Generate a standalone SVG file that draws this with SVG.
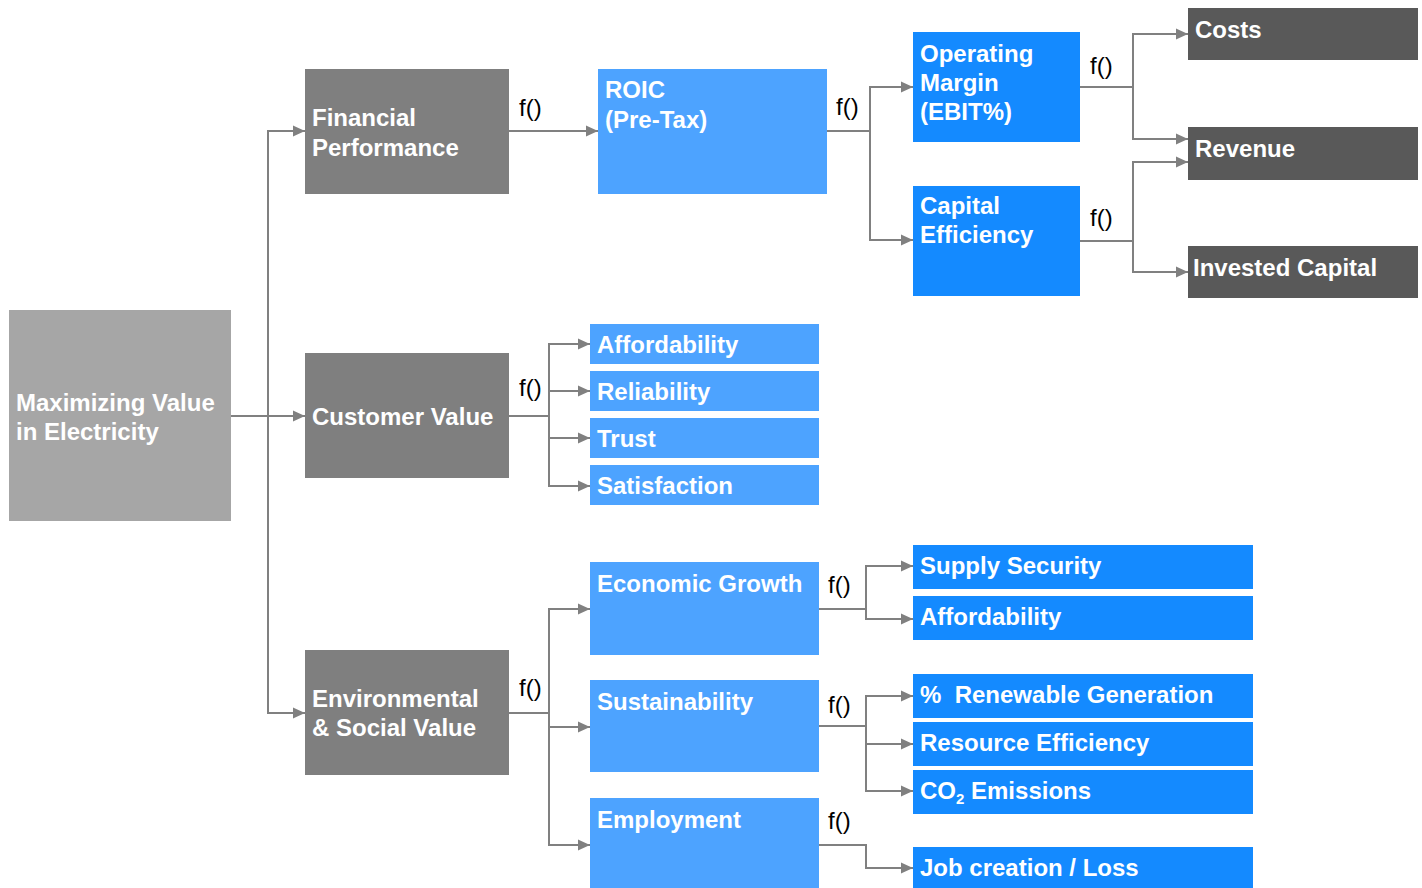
<svg xmlns="http://www.w3.org/2000/svg" width="1422" height="888" viewBox="0 0 1422 888">
<style>
.root{fill:#a6a6a6}
.l1{fill:#7f7f7f}
.lb{fill:#4da3ff}
.db{fill:#148aff}
.dk{fill:#595959}
.t{font-family:"Liberation Sans",Arial,sans-serif;font-size:24px;font-weight:bold;fill:#ffffff}
.f{font-family:"Liberation Sans",Arial,sans-serif;font-size:24px;fill:#000000}
.c{fill:none;stroke:#808080;stroke-width:2}
</style>
<defs>
<marker id="ar" viewBox="0 0 12 12" refX="12" refY="6" markerWidth="12" markerHeight="12" markerUnits="userSpaceOnUse" orient="auto">
<path d="M0,0.5 L12,6 L0,11.5 z" fill="#808080"/>
</marker>
</defs>
<rect width="1422" height="888" fill="#ffffff"/>
<g id="connectors">
<path class="c" d="M231,416 H305" marker-end="url(#ar)"/>
<path class="c" d="M268,416 V131 H305" marker-end="url(#ar)"/>
<path class="c" d="M268,416 V713 H305" marker-end="url(#ar)"/>
<path class="c" d="M509,131 H598" marker-end="url(#ar)"/>
<path class="c" d="M827,131 H870 V87 H913" marker-end="url(#ar)"/>
<path class="c" d="M870,131 V240 H913" marker-end="url(#ar)"/>
<path class="c" d="M1080,87 H1133 V34 H1188" marker-end="url(#ar)"/>
<path class="c" d="M1133,87 V139 H1188" marker-end="url(#ar)"/>
<path class="c" d="M1080,241 H1133 V162 H1188" marker-end="url(#ar)"/>
<path class="c" d="M1133,241 V272 H1188" marker-end="url(#ar)"/>
<path class="c" d="M509,416 H549 V344 H590" marker-end="url(#ar)"/>
<path class="c" d="M549,416 V391 H590" marker-end="url(#ar)"/>
<path class="c" d="M549,416 V438 H590" marker-end="url(#ar)"/>
<path class="c" d="M549,416 V486 H590" marker-end="url(#ar)"/>
<path class="c" d="M509,713 H549 V609 H590" marker-end="url(#ar)"/>
<path class="c" d="M549,713 V727 H590" marker-end="url(#ar)"/>
<path class="c" d="M549,713 V845 H590" marker-end="url(#ar)"/>
<path class="c" d="M819,609 H866 V566 H913" marker-end="url(#ar)"/>
<path class="c" d="M866,609 V619 H913" marker-end="url(#ar)"/>
<path class="c" d="M819,726 H866 V696 H913" marker-end="url(#ar)"/>
<path class="c" d="M866,726 V744 H913" marker-end="url(#ar)"/>
<path class="c" d="M866,726 V791 H913" marker-end="url(#ar)"/>
<path class="c" d="M819,845 H866 V868 H913" marker-end="url(#ar)"/>
<text class="f" x="519" y="116">f()</text>
<text class="f" x="836" y="115">f()</text>
<text class="f" x="1090" y="74">f()</text>
<text class="f" x="1090" y="226">f()</text>
<text class="f" x="519" y="396">f()</text>
<text class="f" x="519" y="696">f()</text>
<text class="f" x="828" y="593">f()</text>
<text class="f" x="828" y="713">f()</text>
<text class="f" x="828" y="829">f()</text>
</g>
<g id="root"><rect class="root" x="9" y="310" width="222" height="211"/><text class="t" x="16" y="411">Maximizing Value</text><text class="t" x="16" y="440">in Electricity</text></g>
<g id="financial"><rect class="l1" x="305" y="69" width="204" height="125"/><text class="t" x="312" y="126">Financial</text><text class="t" x="312" y="156">Performance</text></g>
<g id="customer"><rect class="l1" x="305" y="353" width="204" height="125"/><text class="t" x="312" y="425">Customer Value</text></g>
<g id="envsocial"><rect class="l1" x="305" y="650" width="204" height="125"/><text class="t" x="312" y="707">Environmental</text><text class="t" x="312" y="736">&amp; Social Value</text></g>
<g id="roic"><rect class="lb" x="598" y="69" width="229" height="125"/><text class="t" x="605" y="98">ROIC</text><text class="t" x="605" y="128">(Pre-Tax)</text></g>
<g id="opmargin"><rect class="db" x="913" y="32" width="167" height="110"/><text class="t" x="920" y="62">Operating</text><text class="t" x="920" y="91">Margin</text><text class="t" x="920" y="120">(EBIT%)</text></g>
<g id="capeff"><rect class="db" x="913" y="186" width="167" height="110"/><text class="t" x="920" y="214">Capital</text><text class="t" x="920" y="243">Efficiency</text></g>
<g id="costs"><rect class="dk" x="1188" y="8" width="230" height="52"/><text class="t" x="1195" y="38">Costs</text></g>
<g id="revenue"><rect class="dk" x="1188" y="127" width="230" height="53"/><text class="t" x="1195" y="157">Revenue</text></g>
<g id="invcap"><rect class="dk" x="1188" y="246" width="230" height="52"/><text class="t" x="1193" y="276">Invested Capital</text></g>
<g id="afford1"><rect class="lb" x="590" y="324" width="229" height="40"/><text class="t" x="597" y="353">Affordability</text></g>
<g id="reliab"><rect class="lb" x="590" y="371" width="229" height="40"/><text class="t" x="597" y="400">Reliability</text></g>
<g id="trust"><rect class="lb" x="590" y="418" width="229" height="40"/><text class="t" x="597" y="447">Trust</text></g>
<g id="satisf"><rect class="lb" x="590" y="465" width="229" height="40"/><text class="t" x="597" y="494">Satisfaction</text></g>
<g id="econ"><rect class="lb" x="590" y="562" width="229" height="93"/><text class="t" x="597" y="592">Economic Growth</text></g>
<g id="sust"><rect class="lb" x="590" y="680" width="229" height="92"/><text class="t" x="597" y="710">Sustainability</text></g>
<g id="employ"><rect class="lb" x="590" y="798" width="229" height="90"/><text class="t" x="597" y="828">Employment</text></g>
<g id="supply"><rect class="db" x="913" y="545" width="340" height="44"/><text class="t" x="920" y="574">Supply Security</text></g>
<g id="afford2"><rect class="db" x="913" y="596" width="340" height="44"/><text class="t" x="920" y="625">Affordability</text></g>
<g id="renew"><rect class="db" x="913" y="674" width="340" height="44"/><text class="t" x="920" y="703">%&#160; Renewable Generation</text></g>
<g id="resource"><rect class="db" x="913" y="722" width="340" height="44"/><text class="t" x="920" y="751">Resource Efficiency</text></g>
<g id="co2"><rect class="db" x="913" y="770" width="340" height="44"/><text class="t" x="920" y="799">CO<tspan font-size="15" dy="5">2</tspan><tspan dy="-5"> Emissions</tspan></text></g>
<g id="jobs"><rect class="db" x="913" y="847" width="340" height="41"/><text class="t" x="920" y="876">Job creation / Loss</text></g>
</svg>
